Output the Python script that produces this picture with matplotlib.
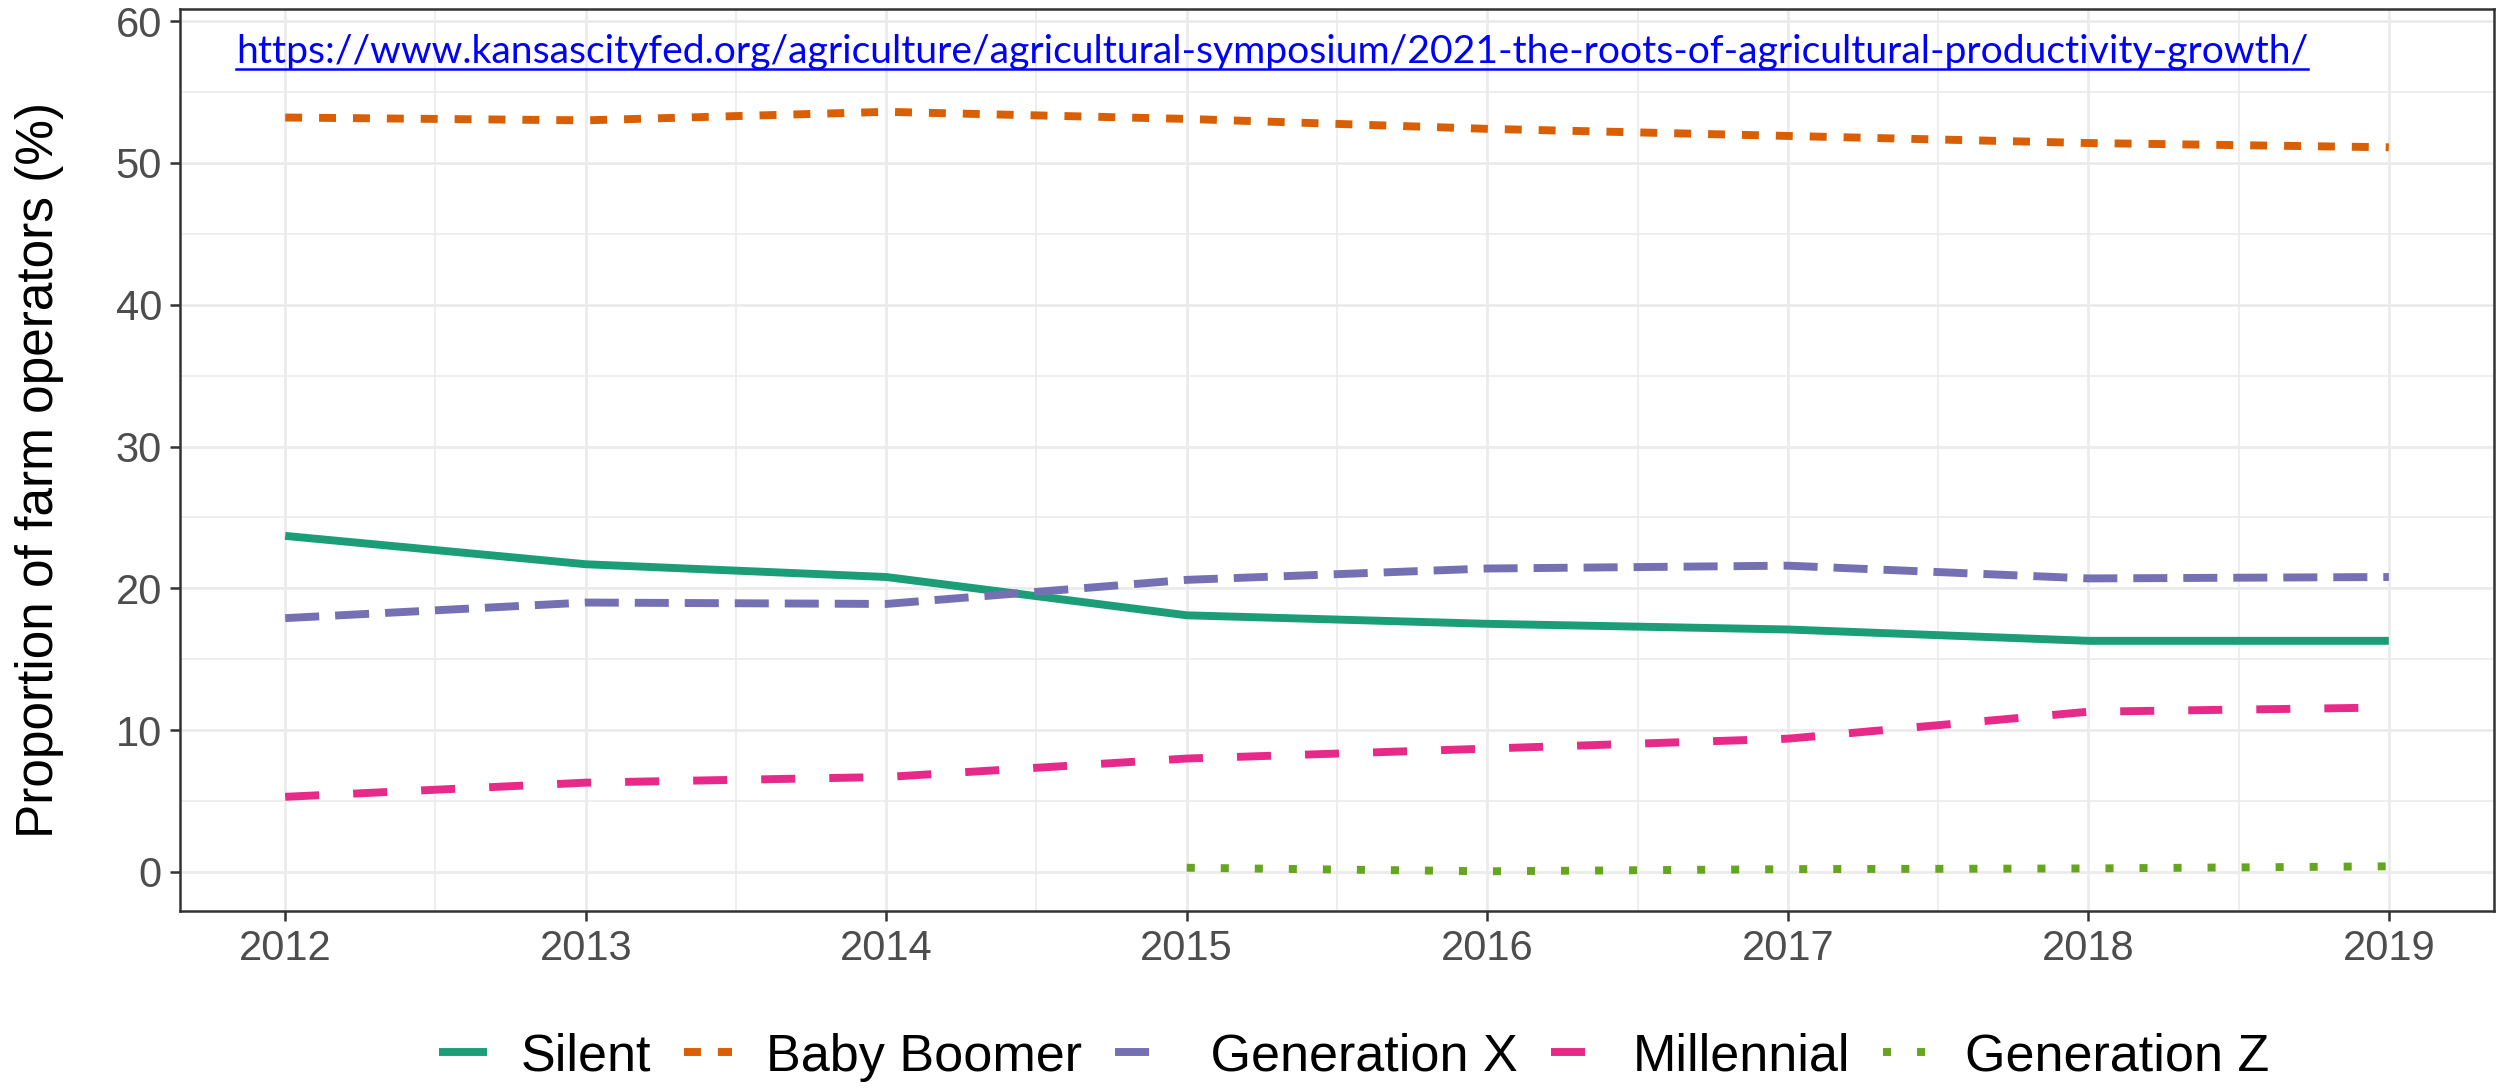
import numpy as np
import matplotlib
matplotlib.use('Agg')
import matplotlib.pyplot as plt
from matplotlib import font_manager
from matplotlib.lines import Line2D
from matplotlib.ticker import MultipleLocator

#----data----
years = [2012, 2013, 2014, 2015, 2016, 2017, 2018, 2019]
silent = [23.7, 21.7, 20.8, 18.1, 17.5, 17.1, 16.3, 16.3]
baby_boomer = [53.2, 53.0, 53.6, 53.1, 52.4, 51.9, 51.4, 51.1]
gen_x = [17.9, 19.0, 18.9, 20.6, 21.4, 21.6, 20.7, 20.8]
millennial = [5.3, 6.3, 6.7, 8.0, 8.7, 9.4, 11.3, 11.6]
gen_z = [np.nan, np.nan, np.nan, 0.3, 0.05, 0.2, 0.25, 0.4]
labels = ['Silent', 'Baby Boomer', ' Generation X', 'Millennial', 'Generation Z']
url = 'https://www.kansascityfed.org/agriculture/agricultural-symposium/2021-the-roots-of-agricultural-productivity-growth/'

#----styles (Dark2 palette, dash lengths in points)----
colors = ['#1B9E77', '#D95F02', '#7570B3', '#E7298A', '#66A61E']
dashes = [None, (12.2, 12.2), (24.5, 11.5), (24.5, 24.5), (5.8, 18.7)]
lw = 5.7

plt.rcParams['font.family'] = ['Liberation Sans', 'DejaVu Sans']
plt.rcParams['lines.scale_dashes'] = False

W, H = 2504, 1089
fig = plt.figure(figsize=(W / 100, H / 100), dpi=100)
ax = fig.add_axes([180 / W, 1 - 911 / H, (2494 - 180) / W, (911 - 9.3) / H])

series = [silent, baby_boomer, gen_x, millennial, gen_z]
handles = []
for vals, c, d, lab in zip(series, colors, dashes, labels):
    ln, = ax.plot(years, vals, color=c, lw=lw, solid_capstyle='butt',
                  dash_capstyle='butt', label=lab, zorder=3)
    if d is not None:
        ln.set_dashes(d)
    handles.append(ln)

ax.set_xlim(2011.65, 2019.35)
ax.set_ylim(-2.75, 60.83)
ax.xaxis.set_major_locator(MultipleLocator(1))
ax.xaxis.set_minor_locator(MultipleLocator(0.5))
ax.yaxis.set_major_locator(MultipleLocator(10))
ax.yaxis.set_minor_locator(MultipleLocator(5))
ax.grid(which='major', color='#EBEBEB', lw=2.0, zorder=0)
ax.grid(which='minor', color='#EBEBEB', lw=1.2, zorder=0)
ax.set_axisbelow(True)
for s in ax.spines.values():
    s.set_color('#333333')
    s.set_linewidth(1.8)
ax.tick_params(which='major', length=7, width=1.8, color='#333333',
               labelsize=30, labelcolor='#4D4D4D', pad=6)
ax.tick_params(which='minor', length=0)
ax.set_xticks(years)
ax.set_xticklabels([str(y) for y in years])

fig.text(40 / W, 1 - 470 / H, 'Proportion of farm operators (%)', rotation=90,
         fontsize=37, ha='center', va='center', color='black')

fig.legend(handles=handles, loc='center', bbox_to_anchor=(0.5407, 1 - 1057 / H),
           ncol=5, frameon=False, fontsize=37.5, handlelength=0.92,
           handletextpad=0.65, columnspacing=0.63, borderpad=0, borderaxespad=0)

#----URL text, scaled to the width seen in the chart, with underline----
avail = {f.name for f in font_manager.fontManager.ttflist}
url_font = 'Lato'
for cand in ['Liberation Sans Narrow', 'Lato']:
    if cand in avail:
        url_font = cand
        break
t = fig.text(236 / W, 1 - 63 / H, url, fontsize=30, color='#0000FF',
             family=url_font, ha='left', va='baseline')
fig.canvas.draw()
w = t.get_window_extent().width
t.set_fontsize(30 * 2069 / w)
fig.canvas.draw()
bb = t.get_window_extent()
yu = 1 - 69 / H
fig.lines.append(Line2D([bb.x0 / W, bb.x1 / W], [yu, yu], transform=fig.transFigure,
                        color='#0000FF', lw=1.8))

fig.savefig('out.png', dpi=100)
